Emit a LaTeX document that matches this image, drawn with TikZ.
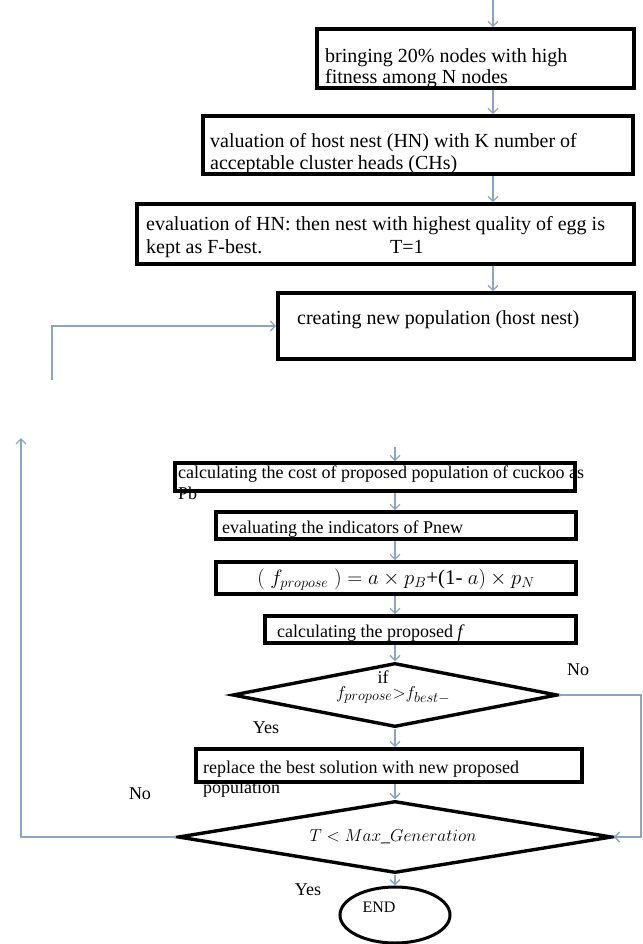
\documentclass[tikz,border=0pt]{standalone}
\usepackage{fontspec}
\setmainfont{Liberation Serif}
\usetikzlibrary{arrows.meta,shapes.geometric}
\definecolor{linec}{RGB}{140,165,195}
\begin{document}
\begin{tikzpicture}[x=1pt,y=-1pt,
  box/.style={draw=black,line width=3.6pt,rectangle,inner sep=0pt},
  dia/.style={draw=black,line width=3.4pt,diamond,inner sep=0pt},
  oval/.style={draw=black,line width=3pt,ellipse,inner sep=0pt},
  big/.style={font=\fontsize{20}{22}\selectfont,inner sep=0pt,anchor=base west},
  small/.style={font=\fontsize{18}{21}\selectfont,inner sep=0pt,anchor=base west},
  lbl/.style={font=\fontsize{18}{21}\selectfont,inner sep=0pt},
  arr/.style={draw=linec,line width=1.3pt,-{Straight Barb[length=5pt,width=10pt]}}
]
\useasboundingbox (0,0) rectangle (642,944);

% boxes
\node[box,minimum width=317pt,minimum height=59pt] (b1) at (475.5,58.5) {};
\node[box,minimum width=430pt,minimum height=58pt] (b2) at (418,145) {};
\node[box,minimum width=497pt,minimum height=60pt] (b3) at (385.5,234) {};
\node[box,minimum width=356pt,minimum height=66pt] (b4) at (456,326) {};
\node[box,minimum width=400pt,minimum height=28pt] (b5) at (375,477) {};
\node[box,minimum width=360pt,minimum height=27pt] (b6) at (396,525.5) {};
\node[box,minimum width=360pt,minimum height=32pt] (b7) at (396,578) {};
\node[box,minimum width=311pt,minimum height=27pt] (b8) at (420.5,629.5) {};
\node[dia,minimum width=325pt,minimum height=64pt] (d1) at (395,695) {};
\node[box,minimum width=386pt,minimum height=33pt] (b9) at (389,765.5) {};
\node[dia,minimum width=434pt,minimum height=72pt] (d2) at (395,837) {};
\node[oval,minimum width=110pt,minimum height=56pt] (end) at (395,915) {};

% texts
\node[big] (t1a) at (325,63) {bringing 20\% nodes with high};
\node[big] (t1b) at (325,84) {fitness among N nodes};
\node[big] (t2a) at (210,148) {valuation of host nest (HN) with K number of};
\node[big] (t2b) at (210,170) {acceptable cluster heads (CHs)};
\node[big] (t3a) at (146,230) {evaluation of HN: then nest with highest quality of egg is};
\node[big] (t3b) at (146,253) {kept as F-best.};
\node[big] (t3c) at (390,253) {T=1};
\node[big] (t4) at (297,324) {creating new population (host nest)};
\node[small] (t5a) at (178,478) {calculating the cost of proposed population of cuckoo as};
\node[small] (t5b) at (178,499) {Pb};
\node[small] (t6) at (222,533) {evaluating the indicators of Pnew};
\node[font=\fontsize{21}{24}\selectfont,inner sep=0pt] (t7) at (396,580) {$(\;f_{propose}\;) = a\times p_{B}$+(1- $a)\times p_{N}$};
\node[small] (t8) at (277,637) {calculating the proposed \textit{f}};
\node[lbl] (if) at (383,677) {if};
\node[font=\fontsize{19}{22}\selectfont,inner sep=0pt] (c1) at (393,695) {$f_{propose}{>}f_{best-}$};
\node[small] (t9a) at (203,773) {replace the best solution with new proposed};
\node[small] (t9b) at (203,793) {population};
\node[lbl] (c2) at (393,837) {$T < Max\_Generation$};
\node[font=\fontsize{16}{18}\selectfont,inner sep=0pt] (endt) at (379,907) {END};

% labels
\node[lbl] (no1) at (578,670) {No};
\node[lbl] (yes1) at (266,728) {Yes};
\node[lbl] (no2) at (140,794) {No};
\node[lbl] (yes2) at (308,890) {Yes};

% connectors
\coordinate (cx1) at (493,0);
\draw[arr] (cx1) -- (cx1 |- b1.north);
\draw[arr] (b1.south -| cx1) -- (b2.north -| cx1);
\draw[arr] (b2.south -| cx1) -- (b3.north -| cx1);
\draw[arr] (b3.south -| cx1) -- (b4.north -| cx1);
\coordinate (lA) at (52,380);
\draw[arr] (lA) |- (b4.west);
\coordinate (cx2) at (395,447);
\draw[arr] (cx2) -- (cx2 |- b5.north);
\draw[arr] (b5.south -| cx2) -- (b6.north -| cx2);
\draw[arr] (b6.south -| cx2) -- (b7.north -| cx2);
\draw[arr] (b7.south -| cx2) -- (b8.north -| cx2);
\draw[arr] (b8.south -| cx2) -- (d1.north);
\draw[arr] (d1.south) -- (d1.south |- b9.north);
\draw[arr] (b9.south -| d2.north) -- (d2.north);
\draw[arr] (d2.south) -- (end.north);
\coordinate (rc) at (641,695);
\draw[arr] (d1.east) -- (rc) |- (d2.east);
\coordinate (lB) at (21,438);
\draw[arr] (d2.west) -| (lB);
\end{tikzpicture}
\end{document}
